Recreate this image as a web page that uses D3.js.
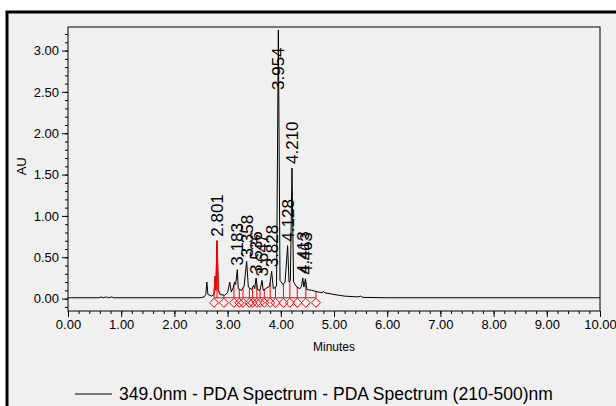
<!DOCTYPE html>
<html>
<head>
<meta charset="utf-8">
<script src="https://cdn.jsdelivr.net/npm/d3@7"></script>
<style>
  body { margin: 0; background: #fff; }
  svg { display: block; font-family: "Liberation Sans", Arial, sans-serif; }
</style>
</head>
<body>
<div id="display"></div>
<script>
// chromatogram trace (minutes, AU)
var traceTime = [0, 0.58, 0.62, 0.66, 0.72, 0.76, 0.82, 0.86, 2.48, 2.56, 2.59, 2.61, 2.63, 2.70,
  2.745, 2.765, 2.78, 2.801, 2.825, 2.86, 2.94, 3.00, 3.04, 3.07, 3.11, 3.13, 3.15, 3.165, 3.183,
  3.20, 3.26, 3.31, 3.358, 3.39, 3.45, 3.49, 3.51, 3.536, 3.56, 3.61, 3.647, 3.67, 3.74, 3.79,
  3.828, 3.86, 3.92, 3.954, 3.985, 4.04, 4.08, 4.128, 4.155, 4.18, 4.210, 4.24, 4.30, 4.36, 4.39,
  4.413, 4.435, 4.463, 4.49, 4.58, 4.70, 4.78, 4.80, 4.83, 5.00, 5.20, 5.45, 5.50, 5.54, 6.00, 7.50, 10.0];
var traceAU = [0.01, 0.01, 0.02, 0.01, 0.02, 0.01, 0.02, 0.01, 0.01, 0.02, 0.05, 0.20, 0.05, 0.03,
  0.05, 0.27, 0.10, 0.70, 0.10, 0.05, 0.04, 0.07, 0.20, 0.08, 0.14, 0.20, 0.17, 0.25, 0.35,
  0.12, 0.10, 0.15, 0.45, 0.14, 0.11, 0.16, 0.12, 0.25, 0.11, 0.10, 0.22, 0.10, 0.13, 0.15,
  0.33, 0.12, 0.15, 3.25, 0.22, 0.17, 0.20, 0.64, 0.20, 0.22, 1.58, 0.20, 0.14, 0.12, 0.15,
  0.25, 0.14, 0.24, 0.11, 0.10, 0.08, 0.07, 0.09, 0.07, 0.05, 0.03, 0.02, 0.03, 0.015, 0.01, 0.01, 0.01];

// highlighted (red) peak
var redStart = 2.745, redEnd = 2.86;

// peak labels
var peakRT = [2.801, 3.183, 3.358, 3.536, 3.647, 3.828, 3.954, 4.128, 4.210, 4.413, 4.463];
var peakAU = [0.70, 0.35, 0.45, 0.25, 0.22, 0.33, 3.25, 0.64, 1.58, 0.25, 0.24];
var peakLabel = ["2.801", "3.183", "3.358", "3.536", "3.647", "3.828", "3.954", "4.128", "4.210", "4.413", "4.463"];

// integration marks (peak start / end)
var markTime = [2.745, 2.93, 3.12, 3.22, 3.29, 3.41, 3.47, 3.55, 3.61, 3.69, 3.80, 3.90, 4.05, 4.17, 4.31, 4.47, 4.66];
var markBase = 0.01;

var xTicks = [0, 1, 2, 3, 4, 5, 6, 7, 8, 9, 10];
var yTicks = [0, 0.5, 1, 1.5, 2, 2.5, 3];

var W = 616, H = 406;
var mLeft = 68, mRight = 600, mTop = 27, mBottom = 311;

var x = d3.scaleLinear().domain([0, 10]).range([mLeft, mRight]);
var y = d3.scaleLinear().domain([-0.15, 3.285]).range([mBottom, mTop]);

var svg = d3.select("#display").append("svg")
    .attr("width", W).attr("height", H);

// outer frame
svg.append("rect").attr("x", 7).attr("y", 12).attr("width", 640).attr("height", 420)
    .attr("fill", "#f0f0f0").attr("stroke", "#000").attr("stroke-width", 3);

var pts = traceTime.map(function(t, i) { return [t, traceAU[i]]; });
function valueAt(t) {
  var i = d3.bisector(function(d) { return d[0]; }).right(pts, t);
  if (i <= 0) return pts[0][1];
  if (i >= pts.length) return pts[pts.length - 1][1];
  var a = pts[i - 1], b = pts[i];
  return a[1] + (b[1] - a[1]) * (t - a[0]) / (b[0] - a[0]);
}

svg.append("defs").append("clipPath").attr("id", "clip")
  .append("rect").attr("x", mLeft).attr("y", mTop).attr("width", mRight - mLeft).attr("height", mBottom - mTop);

var line = d3.line().x(function(d) { return x(d[0]); }).y(function(d) { return y(d[1]); });

var plot = svg.append("g").attr("clip-path", "url(#clip)");

// red integration baseline, drop lines, diamonds
plot.append("line")
    .attr("x1", x(markTime[0])).attr("x2", x(markTime[markTime.length - 1]))
    .attr("y1", y(markBase)).attr("y2", y(markBase))
    .attr("stroke", "#ff0000").attr("stroke-width", 1);
plot.selectAll(".drop").data(markTime).enter().append("line")
    .attr("x1", function(d) { return x(d); }).attr("x2", function(d) { return x(d); })
    .attr("y1", y(markBase)).attr("y2", function(d) { return y(valueAt(d)); })
    .attr("stroke", "#ff0000").attr("stroke-width", 1);

// trace
plot.append("path").datum(pts).attr("d", line)
    .attr("fill", "none").attr("stroke", "#000").attr("stroke-width", 1);

var redPts = pts.filter(function(d) { return d[0] >= redStart && d[0] <= redEnd; });
plot.append("path").datum(redPts).attr("d", line)
    .attr("fill", "none").attr("stroke", "#ff0000").attr("stroke-width", 1.2);
plot.append("line").attr("x1", x(2.801)).attr("x2", x(2.801))
    .attr("y1", y(markBase)).attr("y2", y(0.70))
    .attr("stroke", "#ff0000").attr("stroke-width", 1);

plot.selectAll(".dia").data(markTime).enter().append("path")
    .attr("transform", function(d) { return "translate(" + x(d) + "," + (y(markBase) + 5) + ")"; })
    .attr("d", "M0,-4.5L4.5,0L0,4.5L-4.5,0Z")
    .attr("fill", "none").attr("stroke", "#ff0000").attr("stroke-width", 1);

// peak labels
svg.selectAll(".plabel").data(peakRT).enter().append("text")
    .attr("transform", function(d, i) {
      var yy = Math.max(y(peakAU[i]) - 4, 90);
      return "translate(" + x(d) + "," + yy + ") rotate(-90)";
    })
    .attr("dy", "0.36em")
    .attr("font-size", 17)
    .attr("fill", "#000")
    .text(function(d, i) { return peakLabel[i]; });

// plot box
svg.append("rect").attr("x", mLeft).attr("y", mTop).attr("width", mRight - mLeft).attr("height", mBottom - mTop)
    .attr("fill", "none").attr("stroke", "#000").attr("stroke-width", 1);

// axes
var yMinor = d3.range(-0.1, 3.25, 0.1);
var yAxisMinor = d3.axisLeft(y).tickValues(yMinor).tickSize(3).tickFormat("");
var yAxis = d3.axisLeft(y).tickValues(yTicks).tickSize(6).tickFormat(d3.format(".2f"));
svg.append("g").attr("transform", "translate(" + mLeft + ",0)").call(yAxisMinor)
    .call(function(g) { g.select(".domain").remove(); });
var gy = svg.append("g").attr("transform", "translate(" + mLeft + ",0)").call(yAxis);
gy.select(".domain").remove();
gy.selectAll("text").attr("font-size", 13).attr("font-family", "Liberation Sans, Arial, sans-serif").attr("fill", "#000");

var xMinor = d3.range(0, 10.01, 0.2);
var xAxisMinor = d3.axisBottom(x).tickValues(xMinor).tickSize(3).tickFormat("");
var xAxis = d3.axisBottom(x).tickValues(xTicks).tickSize(6).tickFormat(d3.format(".2f"));
svg.append("g").attr("transform", "translate(0," + mBottom + ")").call(xAxisMinor)
    .call(function(g) { g.select(".domain").remove(); });
var gx = svg.append("g").attr("transform", "translate(0," + mBottom + ")").call(xAxis);
gx.select(".domain").remove();
gx.selectAll("text").attr("font-size", 13).attr("font-family", "Liberation Sans, Arial, sans-serif").attr("fill", "#000");

svg.append("text").attr("x", (mLeft + mRight) / 2).attr("y", 351)
    .attr("text-anchor", "middle").attr("font-size", 12).text("Minutes");
svg.append("text").attr("transform", "translate(26," + y(1.6) + ") rotate(-90)")
    .attr("text-anchor", "middle").attr("font-size", 13).text("AU");

// legend
svg.append("line").attr("x1", 75).attr("x2", 112).attr("y1", 394).attr("y2", 394)
    .attr("stroke", "#000").attr("stroke-width", 1);
svg.append("text").attr("x", 119).attr("y", 400).attr("font-size", 17.5)
    .text("349.0nm - PDA Spectrum - PDA Spectrum (210-500)nm");
</script>
</body>
</html>
